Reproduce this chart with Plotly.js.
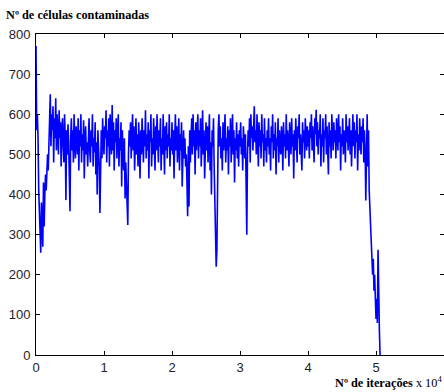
<!DOCTYPE html>
<html>
<head>
<meta charset="utf-8">
<script src="https://cdn.plot.ly/plotly-3.0.1.min.js"></script>
<style>html,body{margin:0;padding:0;background:#fff;}#chart{width:444px;height:392px;}</style>
</head>
<body>
<div id="chart"></div>
<script>
// Number of contaminated cells, sampled every 0.01 x 10^4 iterations starting at 0
const iterStart = 0;
const iterStep = 0.01;
const contaminated = [
  770, 560, 600, 540, 410, 360, 300, 255, 380, 290, 270, 430, 320, 400, 450, 410, 480, 500, 460, 540,
  570, 650, 520, 600, 560, 620, 480, 590, 540, 640, 510, 600, 560, 500, 610, 540, 580, 470, 560, 590,
  520, 480, 600, 540, 386, 560, 500, 575, 530, 470, 358, 540, 590, 510, 560, 480, 600, 530, 490, 570,
  540, 500, 590, 460, 560, 520, 600, 480, 550, 510, 585, 440, 540, 570, 500, 530, 470, 560, 590, 510,
  480, 560, 520, 600, 470, 540, 505, 580, 450, 530, 400, 560, 520, 470, 354, 510, 560, 490, 590, 530,
  500, 570, 540, 610, 480, 560, 520, 590, 470, 600, 540, 500, 623, 510, 580, 460, 560, 530, 590, 490,
  550, 600, 470, 540, 510, 580, 420, 560, 500, 460, 540, 390, 480, 430, 370, 324, 500, 560, 520, 580,
  490, 540, 600, 510, 570, 460, 530, 590, 500, 550, 470, 580, 520, 440, 560, 500, 590, 530, 480, 560,
  520, 610, 490, 550, 510, 580, 440, 560, 530, 600, 470, 540, 500, 590, 520, 460, 570, 510, 600, 540,
  480, 560, 520, 590, 460, 540, 500, 600, 530, 450, 570, 510, 580, 490, 550, 520, 600, 470, 540, 510,
  580, 500, 560, 440, 540, 600, 510, 570, 480, 530, 590, 460, 550, 510, 580, 420, 520, 560, 490, 540,
  470, 500, 430, 346, 520, 370, 560, 480, 540, 590, 500, 600, 520, 560, 450, 580, 510, 540, 600, 490,
  560, 520, 590, 470, 540, 610, 500, 560, 440, 530, 580, 510, 570, 480, 550, 600, 460, 530, 400, 560,
  520, 590, 470, 380, 300, 220, 260, 500, 560, 600, 520, 570, 490, 540, 460, 580, 510, 550, 600, 480,
  540, 510, 570, 450, 560, 520, 590, 480, 530, 600, 500, 560, 430, 540, 510, 580, 490, 550, 470, 560,
  520, 580, 500, 540, 460, 570, 530, 490, 550, 420, 300, 500, 560, 520, 590, 480, 600, 540, 570, 510,
  580, 620, 530, 560, 500, 600, 540, 470, 580, 520, 560, 490, 600, 530, 550, 470, 590, 510, 540, 480,
  560, 520, 590, 500, 540, 460, 570, 530, 600, 490, 550, 510, 580, 450, 540, 520, 590, 480, 560, 530,
  500, 570, 540, 460, 580, 520, 550, 490, 600, 510, 560, 530, 470, 580, 540, 500, 590, 520, 550, 440,
  560, 510, 590, 530, 480, 570, 540, 600, 500, 550, 520, 460, 580, 530, 560, 490, 590, 540, 510, 570,
  520, 560, 490, 580, 540, 600, 510, 570, 530, 480, 590, 550, 611, 520, 580, 500, 560, 540, 600, 470,
  550, 520, 590, 480, 560, 540, 600, 500, 570, 530, 450, 580, 520, 560, 490, 600, 540, 510, 580, 530,
  560, 490, 590, 540, 510, 600, 530, 570, 460, 550, 520, 590, 500, 560, 540, 480, 600, 530, 570, 510,
  550, 590, 500, 560, 470, 540, 600, 520, 580, 490, 560, 530, 600, 460, 550, 510, 590, 540, 500, 570,
  530, 590, 480, 560, 510, 385, 540, 600, 470, 560, 410, 360, 330, 290, 260, 200, 240, 160, 200, 120,
  90, 140, 80, 262, 110, 60, 0
];
const xTickVals = [0, 1, 2, 3, 4, 5, 6];
const xTickText = ['0', '1', '2', '3', '4', '5', '6'];
const yTickVals = [0, 100, 200, 300, 400, 500, 600, 700, 800];
const yTickText = ['0', '100', '200', '300', '400', '500', '600', '700', '800'];
const yTitle = 'Nº de células contaminadas';
const xTitle = '<b>Nº de iterações</b> x 10<sup>4</sup>';

const trace = {
  type: 'scatter',
  mode: 'lines',
  x0: iterStart,
  dx: iterStep,
  y: contaminated,
  line: {color: '#0000FF', width: 1.6},
  hoverinfo: 'skip'
};

const axisCommon = {
  showline: true, linecolor: '#000', linewidth: 1, mirror: 'ticks',
  ticks: 'inside', ticklen: 4, tickcolor: '#000', tickwidth: 1,
  showgrid: false, zeroline: false,
  tickfont: {family: 'Liberation Sans, Arial, sans-serif', size: 13, color: '#222'}
};

const layout = {
  width: 444, height: 392,
  margin: {l: 36, r: 0, t: 34, b: 37},
  paper_bgcolor: '#fff', plot_bgcolor: '#fff',
  showlegend: false,
  xaxis: Object.assign({}, axisCommon, {range: [0, 6], tickmode: 'array', tickvals: xTickVals, ticktext: xTickText}),
  yaxis: Object.assign({}, axisCommon, {range: [0, 800], tickmode: 'array', tickvals: yTickVals, ticktext: yTickText, ticklabelstandoff: 2}),
  annotations: [
    {text: '<b>' + yTitle + '</b>', xref: 'paper', yref: 'paper', x: -0.078, y: 1.0, yshift: 10,
     xanchor: 'left', yanchor: 'bottom', showarrow: false,
     font: {family: 'Liberation Serif, Times New Roman, serif', size: 12.3, color: '#000'}},
    {text: xTitle, xref: 'paper', yref: 'paper', x: 1.0, y: 0, yshift: -37,
     xanchor: 'right', yanchor: 'bottom', showarrow: false,
     font: {family: 'Liberation Serif, Times New Roman, serif', size: 12.3, color: '#000'}}
  ]
};

Plotly.newPlot('chart', [trace], layout, {displayModeBar: false, staticPlot: true});
</script>
</body>
</html>
